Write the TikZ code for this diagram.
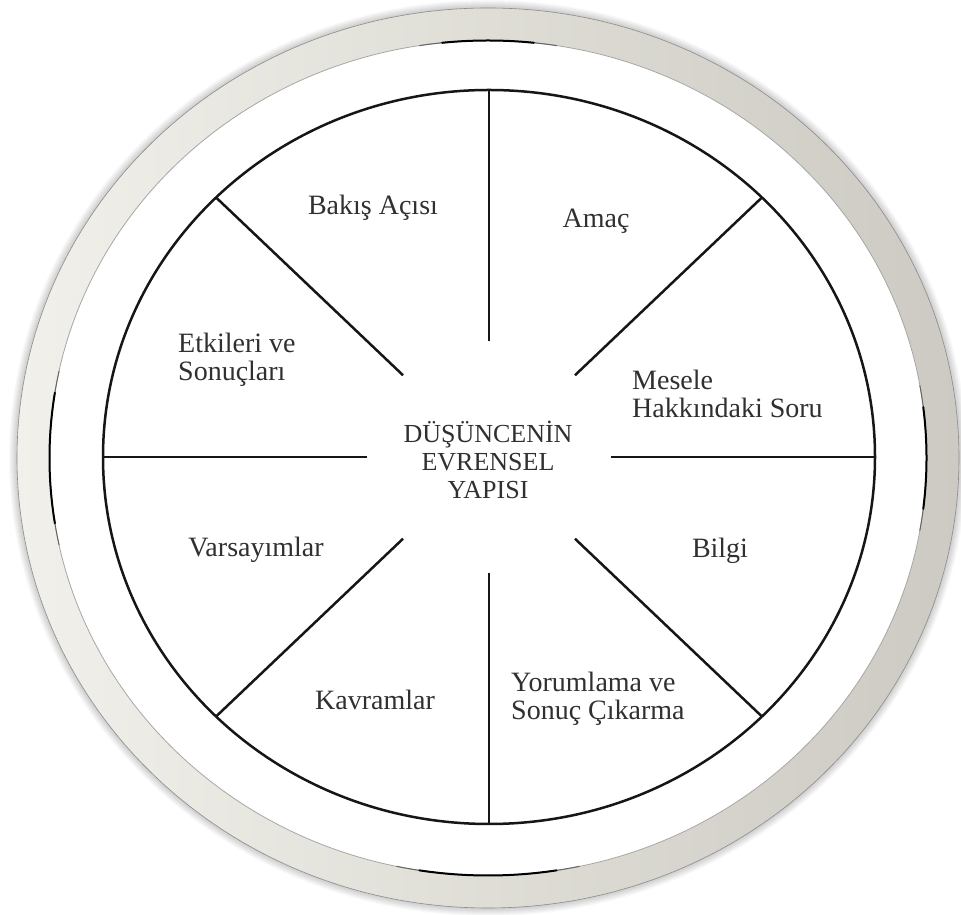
\documentclass[tikz,border=0pt]{standalone}
\usepackage{fontspec}
\setmainfont{Liberation Serif}
\usetikzlibrary{calc}
\definecolor{ringL}{RGB}{241,240,234}
\definecolor{ringR}{RGB}{204,202,194}
\definecolor{txt}{RGB}{48,48,48}
\definecolor{ln}{RGB}{22,22,22}
\begin{document}
\begin{tikzpicture}[x=1pt,y=1pt,
  spoke/.style={draw=ln, line width=2.5pt},
  wheel/.style={draw=ln, line width=2.5pt},
  lbl/.style={text=txt, font=\fontsize{28}{28}\selectfont, inner sep=0pt},
  core/.style={text=txt, font=\fontsize{26}{28}\selectfont, inner sep=0pt, align=center},
  rimdark/.style={draw=black, line width=2pt, line cap=round},
  rimsoft/.style={draw=black!60, line width=1pt, line cap=round}]
\fill[white] (0,0) rectangle (961,915);
\useasboundingbox (0,0) rectangle (961,915);
\coordinate (R) at (488,457);
\coordinate (C) at (489,458);
% soft shadow around the ring
\foreach \i in {1,...,8}
  \fill[black,opacity=0.022] (R) ellipse [x radius=471+\i, y radius=450+\i];
% ring
\shade[left color=ringL, right color=ringR] (R) ellipse [x radius=471, y radius=450];
\draw[black!45, line width=0.6pt] (R) ellipse [x radius=471, y radius=450];
\fill[white] (R) ellipse [x radius=438.5, y radius=417.5];
\draw[black!35, line width=0.8pt] (R) ellipse [x radius=438.5, y radius=417.5];
% dark rim accents
\draw[rimsoft] (R) ++(168:438.5 and 417.5) arc [start angle=168, end angle=192, x radius=438.5, y radius=417.5];
\draw[rimdark] (R) ++(171:438.5 and 417.5) arc [start angle=171, end angle=189, x radius=438.5, y radius=417.5];
\draw[rimsoft] (R) ++(-10:438.5 and 417.5) arc [start angle=-10, end angle=10, x radius=438.5, y radius=417.5];
\draw[rimdark] (R) ++(-7:438.5 and 417.5) arc [start angle=-7, end angle=7, x radius=438.5, y radius=417.5];
\draw[rimsoft] (R) ++(81:438.5 and 417.5) arc [start angle=81, end angle=99, x radius=438.5, y radius=417.5];
\draw[rimdark] (R) ++(84:438.5 and 417.5) arc [start angle=84, end angle=96, x radius=438.5, y radius=417.5];
\draw[rimsoft] (R) ++(258:438.5 and 417.5) arc [start angle=258, end angle=282, x radius=438.5, y radius=417.5];
\draw[rimdark] (R) ++(261:438.5 and 417.5) arc [start angle=261, end angle=279, x radius=438.5, y radius=417.5];
% wheel
\draw[wheel] (C) ellipse [x radius=386, y radius=367];
\foreach \a/\n in {90/n,45/ne,0/e,-45/se,-90/s,-135/sw,180/w,135/nw}{
  \coordinate (o\n) at ($(C)+(\a:386 and 367)$);
  \coordinate (i\n) at ($(C)+(\a:121.6 and 115.6)$);
}
\foreach \n in {n,ne,e,se,s,sw,w,nw}
  \draw[spoke] (i\n) -- (o\n);
% labels
\node[core] (core) at (488,455) {DÜŞÜNCENİN\\EVRENSEL\\YAPISI};
\node[lbl] (bakis) at (373,707) {Bakış Açısı};
\node[lbl] (amac) at (596,694) {Amaç};
\node[lbl, anchor=west, align=left] (mesele) at (632,521) {Mesele\\Hakkındaki Soru};
\node[lbl, anchor=west, align=left] (etki) at (178,555) {Etkileri ve\\Sonuçları};
\node[lbl] (vars) at (256,365) {Varsayımlar};
\node[lbl] (bilgi) at (720,364) {Bilgi};
\node[lbl] (kavram) at (375,215) {Kavramlar};
\node[lbl, anchor=west, align=left] (yorum) at (511,216) {Yorumlama ve\\Sonuç Çıkarma};
\end{tikzpicture}
\end{document}
